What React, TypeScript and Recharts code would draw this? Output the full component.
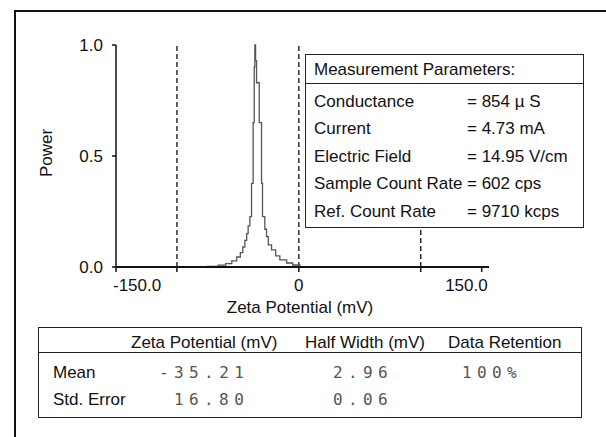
import { LineChart, Line, XAxis, YAxis, ReferenceLine } from 'recharts'

// zeta potential spectrum (mV) and normalised power
const zeta = [-150, -85, -75, -66, -60, -55, -51, -48, -46, -44.3, -42.8, -41.6, -40.2, -38.8, -37.5, -36.6, -36.1, -35.5, -34.7, -32.5, -30.6, -29.8, -27.9, -26.5, -25, -22.4, -19, -15.6, -10, -5, 0.8, 156]
const power = [0, 0, 0.003, 0.008, 0.015, 0.028, 0.045, 0.065, 0.09, 0.12, 0.15, 0.185, 0.227, 0.377, 0.65, 0.9, 1.0, 0.93, 0.83, 0.65, 0.377, 0.227, 0.17, 0.137, 0.1, 0.077, 0.05, 0.032, 0.018, 0.009, 0, 0]

const xTicks = [-150, -100, 0, 100, 150]
const xTickLabels: Record<number, string> = { '-150': '-150.0', '0': '0', '150': '150.0' }
const yTicks = [0, 0.5, 1]
const dashedAt = [-100, 0]
const dashedLow = 100

const paramNames = ['Conductance', 'Current', 'Electric Field', 'Sample Count Rate', 'Ref. Count Rate']
const paramValues = ['= 854 µ S', '= 4.73 mA', '= 14.95 V/cm', '= 602 cps', '= 9710 kcps']

const resultCols = ['Zeta Potential (mV)', 'Half Width (mV)', 'Data Retention']
const meanRow = ['-35.21', '2.96', '100%']
const errRow = ['16.80', '0.06', '']

const data = zeta.map((x, i) => ({ x, v: power[i] }))

const font = '"Liberation Sans", Arial, sans-serif'

function XTick(props: any) {
  const { x, y, payload } = props
  const label = xTickLabels[payload.value]
  if (!label) return null
  let anchor: 'start' | 'middle' | 'end' = 'middle'
  let dx = 0
  if (payload.value === -150) { anchor = 'start'; dx = -3 }
  if (payload.value === 150) { anchor = 'end'; dx = 6 }
  return (
    <text x={x + dx} y={y} dy={17} textAnchor={anchor} fontSize={17} fill="#111" fontFamily={font}>
      {label}
    </text>
  )
}

const abs = (left: number, top: number, extra: any = {}) => ({ position: 'absolute' as const, left, top, ...extra })

export default function App() {
  const rowCenters = [102, 129, 157, 184, 212]
  const numStyle = { fontFamily: '"DejaVu Sans Mono", monospace', fontSize: 16, letterSpacing: '5.4px', color: '#555', lineHeight: '20px', whiteSpace: 'pre' as const }
  const txt = { fontSize: 17, lineHeight: '20px', color: '#111', whiteSpace: 'pre' as const }
  return (
    <div style={{ position: 'absolute', left: 0, top: 0, width: 606, height: 437, overflow: 'hidden', background: '#fff', fontFamily: font }}>
      <div style={abs(14, 10, { width: 700, height: 500, border: '2px solid #111' })} />
      <div style={abs(0, 0)}>
        <LineChart width={606} height={437} data={data} margin={{ top: 45, right: 117, left: 66, bottom: 140 }}>
          <XAxis
            type="number"
            dataKey="x"
            domain={[-150, 156]}
            ticks={xTicks}
            allowDataOverflow
            height={30}
            tickSize={5}
            tick={<XTick />}
            axisLine={{ stroke: '#111', strokeWidth: 2 }}
            tickLine={{ stroke: '#111', strokeWidth: 1.5 }}
            interval={0}
          />
          <YAxis
            type="number"
            domain={[0, 1]}
            ticks={yTicks}
            width={50}
            tickSize={4}
            tickMargin={9}
            tickFormatter={(v: number) => v.toFixed(1)}
            tick={{ fontSize: 17, fill: '#111', fontFamily: font }}
            axisLine={{ stroke: '#111', strokeWidth: 1.5 }}
            tickLine={{ stroke: '#111', strokeWidth: 1.5 }}
          />
          {dashedAt.map((d) => (
            <ReferenceLine key={d} x={d} stroke="#111" strokeWidth={1.3} strokeDasharray="5 3" />
          ))}
          <ReferenceLine segment={[{ x: dashedLow, y: 0 }, { x: dashedLow, y: 0.5 }]} stroke="#111" strokeWidth={1.3} strokeDasharray="5 3" />
          <Line type="stepAfter" dataKey="v" stroke="#555" strokeWidth={1.3} dot={false} isAnimationActive={false} />
        </LineChart>
      </div>

      <div style={abs(47 - 40, 153 - 10, { ...txt, width: 80, textAlign: 'center', transform: 'rotate(-90deg)' })}>Power</div>
      <div style={abs(200, 298, { ...txt, width: 200, textAlign: 'center' })}>Zeta Potential (mV)</div>

      {/* measurement parameters box */}
      <div style={abs(305, 54, { width: 277, height: 172, border: '1.5px solid #222', background: '#fff' })}>
        <div style={{ height: 28, borderBottom: '1.5px solid #222' }} />
      </div>
      <div style={abs(314, 60, txt)}>Measurement Parameters:</div>
      {paramNames.map((n, i) => (
        <div key={n}>
          <div style={abs(314, rowCenters[i] - 10, txt)}>{n}</div>
          <div style={abs(467, rowCenters[i] - 10, txt)}>{paramValues[i]}</div>
        </div>
      ))}

      {/* results table */}
      <div style={abs(38, 327, { width: 542, height: 89, border: '1.5px solid #222' })}>
        <div style={{ height: 24, borderBottom: '1.5px solid #222' }} />
      </div>
      <div style={abs(131, 333, txt)}>{resultCols[0]}</div>
      <div style={abs(305, 333, txt)}>{resultCols[1]}</div>
      <div style={abs(448, 333, txt)}>{resultCols[2]}</div>
      <div style={abs(53, 363, txt)}>Mean</div>
      <div style={abs(53, 390, txt)}>Std. Error</div>
      <div style={abs(159, 363, numStyle)}>{meanRow[0]}</div>
      <div style={abs(333, 363, numStyle)}>{meanRow[1]}</div>
      <div style={abs(462, 363, numStyle)}>{meanRow[2]}</div>
      <div style={abs(174, 390, numStyle)}>{errRow[0]}</div>
      <div style={abs(333, 390, numStyle)}>{errRow[1]}</div>
    </div>
  )
}
